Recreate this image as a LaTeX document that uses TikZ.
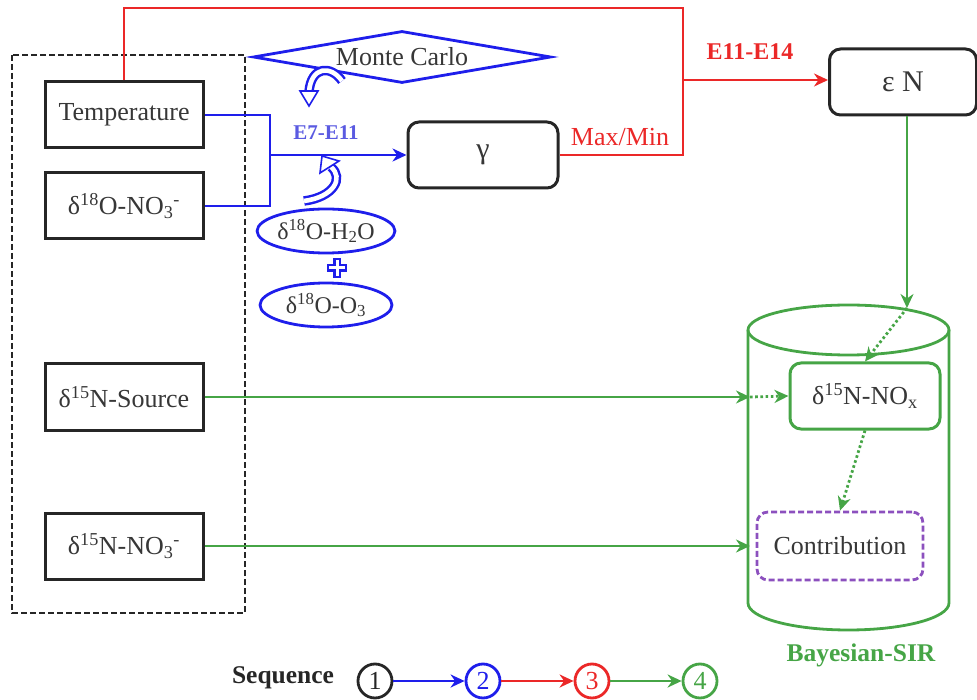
\documentclass[tikz,border=0pt]{standalone}
\usepackage{fontspec}
\setmainfont{Liberation Serif}
\usetikzlibrary{arrows.meta,shapes.geometric,calc}
\definecolor{cblue}{RGB}{30,30,235}
\definecolor{cred}{RGB}{235,40,40}
\definecolor{cgreen}{RGB}{70,165,70}
\definecolor{cpurple}{RGB}{140,80,190}
\definecolor{clabel}{RGB}{90,90,225}
\definecolor{ctext}{RGB}{55,55,55}
\tikzset{
  txt/.style={font=\fontsize{26}{30}\selectfont, text=ctext},
  inbox/.style={draw=black!85, line width=3pt, minimum width=158pt, minimum height=66pt, txt, inner sep=0pt},
  rbox/.style={draw=black!85, line width=3pt, rounded corners=11pt, minimum height=66pt, txt, inner sep=0pt},
  oval/.style={ellipse, draw=cblue, line width=2.8pt, minimum width=132pt, minimum height=44pt, inner sep=0pt, font=\fontsize{24}{28}\selectfont, text=ctext},
  tip/.style={-{Stealth[length=14pt,width=13pt,inset=4.5pt]}},
  bluel/.style={draw=cblue, line width=2.8pt},
  redl/.style={draw=cred, line width=2.8pt},
  greenl/.style={draw=cgreen, line width=2.8pt},
  dotl/.style={draw=cgreen, line width=2.8pt, dash pattern=on 2.6pt off 2.6pt},
  hollowarc/.style={draw=cblue, line width=9.5pt, postaction={draw=white, line width=4.6pt}},
  seqc/.style={circle, line width=2.8pt, minimum size=34pt, inner sep=0pt, font=\fontsize{26}{28}\selectfont},
}
\begin{document}
\begin{tikzpicture}[x=1pt,y=-1pt]
\useasboundingbox (0,0) rectangle (977,700);

% input block
\draw[black!85, line width=2.6pt, dash pattern=on 6pt off 3pt] (12,55) rectangle (245,613);
\node[inbox] (temp) at (124,115) {Temperature};
\node[inbox] (o18) at (124,206) {δ\textsuperscript{18}O-NO\textsubscript{3}\textsuperscript{-}};
\node[inbox] (nsrc) at (124,397) {δ\textsuperscript{15}N-Source};
\node[inbox] (n15) at (124,546) {δ\textsuperscript{15}N-NO\textsubscript{3}\textsuperscript{-}};

% fractionation step
\node[diamond, draw=cblue, line width=2.8pt, aspect=5.8, minimum width=298pt, minimum height=52pt, inner sep=0pt, txt] (mc) at (402,57) {Monte Carlo};
\node[rbox, minimum width=150pt] (gamma) at (483,155) {\fontsize{30}{32}\selectfont γ};
\node[oval] (h2o) at (326,231) {δ\textsuperscript{18}O-H\textsubscript{2}O};
\node[oval] (o3) at (326,305) {δ\textsuperscript{18}O-O\textsubscript{3}};
% hollow plus sign between the two ovals
\coordinate (plus) at (337,268);
\draw[cblue, line width=7.5pt] ($(plus)+(0,-10)$) -- ($(plus)+(0,10)$) ($(plus)+(-10,0)$) -- ($(plus)+(10,0)$);
\draw[white, line width=3pt] ($(plus)+(0,-8)$) -- ($(plus)+(0,8)$) ($(plus)+(-8,0)$) -- ($(plus)+(8,0)$);

\coordinate (jn) at (270,155);
\draw[bluel] (temp.east) -| (270,206) -- (o18.east);
\draw[bluel, tip] (jn) -- (gamma.west);
\node[text=clabel, font=\bfseries\fontsize{21}{24}\selectfont] (e7) at (326,133) {E7-E11};

% curved block arrows
\draw[hollowarc] (342,81) .. controls (331,65) and (311,66) .. (309,92);
\filldraw[cblue, line width=1.6pt, fill=white] (300,91) -- (318,91) -- (309,106) -- cycle;
\draw[hollowarc] (304,201) .. controls (334,197) and (344,178) .. (331,167);
\filldraw[cblue, line width=1.6pt, fill=white] (320,173) -- (339,161) -- (322,156) -- cycle;

% temperature range
\node[rbox, minimum width=147pt] (eN) at (903,82) {\fontsize{30}{32}\selectfont ε N};
\coordinate (rt) at (683,8);
\coordinate (br) at (683,80);
\draw[redl] (temp.north) |- (rt) |- (gamma.east);
\draw[redl, tip] (br) -- (br -| eN.west);
\node[text=cred, font=\bfseries\fontsize{24}{28}\selectfont] (e11) at (750,52) {E11-E14};
\node[text=cred, font=\fontsize{26}{30}\selectfont] (mm) at (620,137) {Max/Min};

% Bayesian-SIR cylinder
\draw[cgreen, line width=2.8pt] (748,330) arc[start angle=180, end angle=-180, x radius=100.5, y radius=25];
\draw[cgreen, line width=2.8pt] (748,330) -- (748,603) arc[start angle=180, end angle=0, x radius=100.5, y radius=27] -- (949,330);
\node[text=cgreen, font=\bfseries\fontsize{25.5}{28}\selectfont] (sir) at (861,655) {Bayesian-SIR};
\node[rbox, draw=cgreen, minimum width=150pt] (nox) at (865,396) {δ\textsuperscript{15}N-NO\textsubscript{x}};
\node[rbox, draw=cpurple, dash pattern=on 6pt off 3pt, line width=2.8pt, minimum width=166pt, minimum height=68pt] (contrib) at (840,546) {Contribution};

\coordinate (ctop) at (907,308);
\coordinate (wsrc) at (750,397);
\coordinate (wn15) at (750,546);
\draw[greenl, tip] (eN.south -| ctop) -- (ctop);
\draw[dotl, tip] (ctop) -- (nox.north);
\draw[greenl, tip] (nsrc.east) -- (wsrc);
\draw[dotl, tip] (wsrc) -- (nox.west);
\draw[greenl, tip] (n15.east) -- (wn15);
\draw[dotl, tip] (nox.south) -- (contrib.north);

% sequence legend
\node[font=\bfseries\fontsize{25.5}{28}\selectfont, text=black!85] (seq) at (283,678) {Sequence};
\node[seqc, draw=black!85, text=black!85] (s1) at (375,681) {1};
\node[seqc, draw=cblue, text=cblue] (s2) at (483,681) {2};
\node[seqc, draw=cred, text=cred] (s3) at (592,681) {3};
\node[seqc, draw=cgreen, text=cgreen] (s4) at (700,681) {4};
\draw[bluel, tip] (s1) -- (s2);
\draw[redl, tip] (s2) -- (s3);
\draw[greenl, tip] (s3) -- (s4);
\end{tikzpicture}
\end{document}
